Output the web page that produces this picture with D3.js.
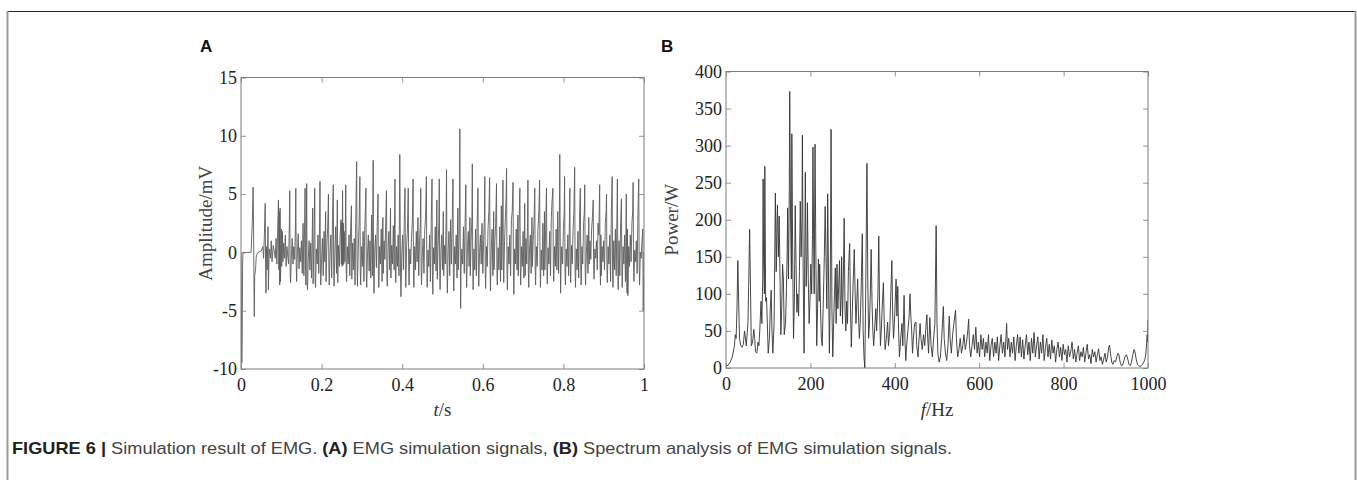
<!DOCTYPE html>
<html><head><meta charset="utf-8">
<script src="https://cdn.jsdelivr.net/npm/d3@7/dist/d3.min.js"></script>
<style>
html,body{margin:0;padding:0;background:#fff;}
svg{display:block;}
</style></head>
<body>
<svg id="chart" width="1357" height="480"></svg>
<script>
// ---------- DATA ----------
const ampTicks = [-10, -5, 0, 5, 10, 15];
const timeTicks = [0, 0.2, 0.4, 0.6, 0.8, 1];
const timeTickLabels = ["0", "0.2", "0.4", "0.6", "0.8", "1"];
const powerTicks = [0, 50, 100, 150, 200, 250, 300, 350, 400];
const freqTicks = [0, 200, 400, 600, 800, 1000];

// EMG simulation signal: [time (s), amplitude (mV)]
const emgSignal = [
[0,0],[0.001,-4],[0.002,-9.5],[0.003,-7],[0.004,-1],[0.005,0],[0.025,0],[0.028,2.5],[0.030,5.6],[0.031,3],[0.032,-2],[0.033,-5.5],[0.034,-2],[0.036,-1.5],[0.038,-0.3],[0.042,0],[0.050,0.1],
[0.054,0.5],[0.056,-0.5],[0.058,1.5],[0.060,4.2],[0.061,-1],[0.062,-3.5],[0.063,0.5],[0.065,-1.5],[0.067,2.2],[0.068,-3.2],[0.070,0.3],[0.073,-0.5],[0.075,1],[0.077,-0.8],[0.080,0.6],[0.082,0.2],[0.085,-0.5],[0.087,1.2],[0.089,-1],[0.091,2],[0.093,4.5],[0.094,-1.5],[0.095,3.5],[0.096,-2.8],[0.097,3.8],[0.098,-2.5],[0.100,2],[0.101,-1.2],[0.103,1.8],[0.104,-0.8],[0.106,0.8],[0.108,-0.5],[0.110,1.5],[0.112,-1.2],[0.114,0.5],[0.116,-0.3],[0.118,-1],[0.120,2.5],[0.121,5.3],[0.122,-1.8],[0.123,-2.6],[0.125,-0.4],[0.127,1.2],[0.129,-1],[0.131,0.5],[0.133,-0.6],[0.135,2],[0.136,5.5],[0.137,-1],[0.138,-2.5],[0.140,0],[0.142,1.6],[0.144,-1.4],[0.146,0.4],[0.148,-0.8],[0.150,1],[0.152,-1.8],[0.154,2.5],[0.156,-2],[0.158,3],[0.159,5.5],[0.160,-1],[0.161,-2.8],[0.162,1.5],[0.163,5.9],[0.164,-2.5],[0.165,-3.2],[0.167,-0.5],[0.169,1],[0.171,-1.5],[0.173,0.8],[0.175,-2.2],[0.177,2],[0.178,3.8],[0.179,-2.7],[0.181,1],[0.183,5.5],[0.184,-2.5],[0.185,-3],[0.187,0.3],[0.189,-1],[0.191,1.5],[0.193,-1.8],[0.195,2.5],[0.196,6.1],[0.197,-1],[0.198,-2.8],[0.200,-0.5],[0.202,1.2],[0.204,-2],[0.206,1.8],[0.208,-0.8],[0.210,3.5],[0.211,-2.5],[0.213,0.5],[0.215,2],[0.217,5.0],[0.218,-1.5],[0.219,-2.8],[0.221,0],[0.223,1.5],[0.225,-2.2],[0.227,3],[0.229,5.8],[0.230,-1.5],[0.231,-2.9],[0.233,0.2],[0.235,2.2],[0.237,-1.8],[0.239,4.5],[0.240,-2.6],[0.242,0.6],[0.244,-1.2],[0.246,1.5],[0.248,2.8],[0.249,-1],[0.250,2.6],[0.251,-1.2],[0.252,5.3],[0.253,-1.1],[0.254,2.5],[0.255,-1],[0.256,1.8],[0.258,-0.8],[0.260,5.8],[0.261,-1.5],[0.262,-2.5],[0.264,0.5],[0.266,-1],[0.268,1.5],[0.270,-2],[0.272,2],[0.274,4.0],[0.275,-2.3],[0.277,0.8],[0.279,-1.5],[0.281,1.2],[0.283,-2.8],[0.285,3.5],[0.287,7.8],[0.288,-1],[0.289,-2.9],[0.291,0.3],[0.293,2.5],[0.295,6.5],[0.296,-1.5],[0.297,-2.8],[0.299,0.5],[0.301,-1.2],[0.303,1.8],[0.305,-2.5],[0.307,2],[0.309,4],[0.310,5.5],[0.311,-2],[0.312,-3],[0.314,0],[0.316,1.5],[0.318,-1.6],[0.320,1],[0.322,-2.2],[0.324,3.2],[0.326,-2],[0.327,3],[0.328,7.9],[0.329,-1.5],[0.330,-3.5],[0.332,0.2],[0.334,1.5],[0.336,-1.3],[0.338,2.2],[0.340,5.0],[0.341,-2],[0.342,-3],[0.344,0.5],[0.346,-1],[0.348,2],[0.350,-2.5],[0.352,3],[0.353,-1.8],[0.355,1],[0.357,-0.6],[0.359,2.5],[0.361,5.3],[0.362,-2],[0.363,-2.9],[0.365,0.4],[0.367,1.8],[0.369,-1.5],[0.371,3.8],[0.372,-2.2],[0.374,0.6],[0.376,-1],[0.378,2.3],[0.380,-1.5],[0.382,6.3],[0.383,-1.5],[0.384,-2.6],[0.386,0.5],[0.388,-1.2],[0.390,1.5],[0.392,-2],[0.394,8.4],[0.395,3],[0.396,-2.5],[0.397,-3.8],[0.399,0],[0.401,1.5],[0.403,-1.5],[0.405,2.5],[0.407,5.5],[0.408,-1.5],[0.409,-3],[0.411,0.6],[0.413,2],[0.415,5.5],[0.416,-1.2],[0.417,-2.8],[0.419,0.3],[0.421,-1],[0.423,1.2],[0.425,2.5],[0.427,6.3],[0.428,-1.8],[0.429,-3],[0.431,0.5],[0.433,-1.5],[0.435,1.8],[0.437,-0.8],[0.439,3],[0.441,-2],[0.443,1],[0.445,2.5],[0.446,5.5],[0.447,-1.5],[0.448,-2.8],[0.450,0],[0.452,1.2],[0.454,-1.8],[0.456,2],[0.458,3],[0.460,6.5],[0.461,-1],[0.462,-3],[0.464,0.2],[0.466,-1.2],[0.468,1.5],[0.470,-2.5],[0.472,2.5],[0.474,6.3],[0.475,-2],[0.476,-3.6],[0.478,0.4],[0.480,-1],[0.482,2.2],[0.484,-1.6],[0.486,4.5],[0.487,-2.3],[0.489,0.5],[0.491,2.5],[0.492,6.3],[0.493,-1.5],[0.494,-3.2],[0.496,0],[0.498,1.5],[0.500,-1.5],[0.502,3.5],[0.503,-2],[0.505,0.6],[0.507,-1],[0.509,3],[0.510,7.1],[0.511,-1],[0.512,-3.5],[0.514,0.2],[0.516,1.8],[0.518,-2],[0.520,2.8],[0.522,-1],[0.524,2.5],[0.526,6.3],[0.527,-1.8],[0.528,-3.3],[0.530,0.5],[0.532,-1],[0.534,1.5],[0.536,-2.2],[0.538,3.8],[0.539,-1.5],[0.541,1],[0.542,4],[0.543,10.6],[0.544,1],[0.545,-4.8],[0.546,-1.5],[0.548,0.3],[0.550,-1],[0.552,2.2],[0.554,-1.8],[0.556,2.5],[0.558,5.8],[0.559,-1.5],[0.560,-3],[0.562,0.5],[0.564,1.8],[0.566,-1.2],[0.568,3],[0.569,-2],[0.571,1],[0.573,3],[0.574,7.6],[0.575,-1],[0.576,-3.2],[0.578,0.3],[0.580,-1.5],[0.582,2],[0.584,-2],[0.586,2.5],[0.588,5.5],[0.589,-1.2],[0.590,-2.9],[0.592,0],[0.594,1.5],[0.596,-1],[0.598,2.5],[0.600,-1.8],[0.602,1],[0.604,3],[0.605,6.5],[0.606,-1.5],[0.607,-3.1],[0.609,0.5],[0.611,-1.2],[0.613,2],[0.615,3.5],[0.617,6.4],[0.618,-1],[0.619,-3.3],[0.621,0.2],[0.623,2],[0.625,-2],[0.627,3.5],[0.628,-1.5],[0.630,1],[0.632,2.5],[0.634,5.9],[0.635,-1.5],[0.636,-2.8],[0.638,0.4],[0.640,-1.5],[0.642,2.2],[0.644,-2.5],[0.646,4],[0.647,-1.5],[0.649,2.5],[0.650,6.2],[0.651,-1],[0.652,-2.6],[0.654,1],[0.656,3],[0.658,5],[0.659,7.2],[0.660,-1.5],[0.661,-3.2],[0.663,0.5],[0.665,-1],[0.667,1.5],[0.669,-2],[0.671,2.8],[0.673,3.5],[0.675,6.0],[0.676,-1.5],[0.677,-3.6],[0.679,0.3],[0.681,-1],[0.683,2],[0.685,-1.5],[0.687,3.2],[0.688,-2],[0.690,2.5],[0.692,5.5],[0.693,-1],[0.694,-2.8],[0.696,0.5],[0.698,-1.2],[0.700,1.8],[0.702,-2.2],[0.704,4.2],[0.705,-2],[0.707,1.2],[0.709,-1],[0.711,2.5],[0.712,6.2],[0.713,-1.5],[0.714,-3],[0.716,0.3],[0.718,1.5],[0.720,-1.8],[0.722,3],[0.723,-1.2],[0.725,1],[0.727,2.5],[0.729,5.5],[0.730,-1.5],[0.731,-2.8],[0.733,0.5],[0.735,-1.2],[0.737,2],[0.739,3.5],[0.741,6.2],[0.742,-1],[0.743,-3],[0.745,0.2],[0.747,-1.5],[0.749,2.5],[0.751,-2],[0.753,3.5],[0.754,-1.5],[0.756,2],[0.758,5.5],[0.759,-1.2],[0.760,-2.7],[0.762,0.4],[0.764,-1],[0.766,1.8],[0.768,-2],[0.770,3],[0.772,4.5],[0.774,5.5],[0.775,-1],[0.776,-2.5],[0.778,0.5],[0.780,-1.2],[0.782,2],[0.784,-1.5],[0.786,3.5],[0.788,-1.8],[0.790,3],[0.791,8.4],[0.792,2],[0.793,-3.5],[0.794,-1.5],[0.796,0.5],[0.798,-1],[0.800,2],[0.802,3.5],[0.803,6.5],[0.804,-1.5],[0.805,-2.8],[0.807,0.3],[0.809,-1.2],[0.811,1.5],[0.813,-2],[0.815,3],[0.816,5.5],[0.817,-1],[0.818,-2.6],[0.820,0.6],[0.822,-1],[0.824,2],[0.826,3.5],[0.828,7.3],[0.829,-1.5],[0.830,-3],[0.832,0.3],[0.834,-1.5],[0.836,1.8],[0.838,-2.2],[0.840,3],[0.842,5.5],[0.843,-1],[0.844,-2.8],[0.846,0.5],[0.848,-1],[0.850,2.5],[0.852,3.5],[0.853,5.8],[0.854,-1.5],[0.855,-2.8],[0.857,0],[0.859,1.5],[0.861,-1.8],[0.863,3],[0.864,-1],[0.866,1],[0.868,-0.6],[0.870,2],[0.872,3],[0.874,4.5],[0.875,-1],[0.876,-2.3],[0.878,0.3],[0.880,-0.5],[0.882,1],[0.884,-1.5],[0.886,2.5],[0.888,1.5],[0.890,5.8],[0.891,-1],[0.892,-2.8],[0.893,1.5],[0.894,-2],[0.896,0.5],[0.898,-0.8],[0.900,1],[0.902,-1.5],[0.904,2.5],[0.906,3.5],[0.907,5],[0.908,-1.5],[0.909,-2.6],[0.911,0.5],[0.913,-1],[0.915,1.5],[0.917,-2.5],[0.919,3.5],[0.920,5],[0.921,6.5],[0.922,-1.5],[0.923,-3],[0.925,1],[0.927,-1.5],[0.929,2],[0.931,-2],[0.933,3.5],[0.934,6.3],[0.935,-1],[0.936,-3.2],[0.938,1],[0.940,-2],[0.942,2.5],[0.944,4.6],[0.945,-1.5],[0.946,-3],[0.948,0.5],[0.950,-1],[0.952,1.5],[0.954,-2.5],[0.956,5.0],[0.957,-1.5],[0.958,-3.5],[0.959,2],[0.960,-3.7],[0.962,0.5],[0.964,-1.2],[0.966,1.5],[0.968,-0.8],[0.970,2.5],[0.972,3.5],[0.973,6.0],[0.974,-1],[0.975,-2.5],[0.977,0.2],[0.979,-0.8],[0.981,1],[0.983,-1.8],[0.985,3.5],[0.987,6.3],[0.988,-1],[0.989,-2.8],[0.991,0],[0.993,-0.5],[0.995,1],[0.997,2],[0.998,-5],[0.999,-3],[1.0,0]
];

// Power spectrum: [frequency (Hz), power (W)]
const spectrum = [
[0,2],[5,4],[10,8],[15,15],[20,30],[22,45],[24,40],[26,80],[28,145],[30,90],[32,40],[35,30],[38,28],[41,32],[44,50],[48,30],[52,60],[54,120],[56,187],[58,110],[60,30],[63,35],[66,52],[68,40],[70,22],[73,20],[76,35],[78,30],[80,50],[83,90],[85,60],[87,120],[88,255],[89,150],[91,100],[92,272],[94,90],[96,95],[98,60],[100,20],[103,40],[105,80],[107,105],[109,50],[111,20],[114,60],[116,180],[117,236],[119,130],[121,200],[122,220],[124,150],[126,205],[128,120],[130,45],[132,80],[134,140],[136,120],[138,45],[141,60],[143,100],[145,160],[146,216],[148,120],[150,240],[151,373],[153,200],[155,120],[156,316],[158,150],[160,40],[162,90],[164,219],[166,140],[168,75],[170,100],[172,70],[174,130],[176,225],[178,150],[180,200],[181,314],[183,120],[185,20],[186,100],[188,264],[190,110],[192,150],[193,223],[195,120],[197,60],[199,90],[201,140],[203,100],[205,180],[206,298],[208,150],[209,100],[211,302],[213,150],[215,30],[217,80],[219,147],[221,90],[222,140],[224,80],[226,40],[228,30],[231,100],[233,150],[235,218],[237,150],[239,80],[241,235],[243,120],[245,20],[247,100],[249,322],[251,80],[253,15],[255,60],[257,100],[259,135],[261,60],[263,140],[265,80],[267,110],[269,145],[271,70],[273,100],[274,150],[276,60],[278,120],[280,202],[282,80],[284,50],[286,90],[288,60],[290,130],[293,168],[295,80],[297,28],[299,70],[301,110],[304,160],[306,100],[308,60],[310,90],[312,120],[314,70],[316,40],[318,60],[320,100],[323,181],[325,50],[327,15],[329,0],[331,100],[334,276],[336,120],[338,40],[340,60],[342,100],[344,160],[346,90],[348,50],[350,30],[353,60],[355,80],[357,50],[360,100],[362,178],[364,80],[366,30],[368,50],[370,80],[373,115],[375,60],[377,25],[380,40],[383,62],[385,30],[388,50],[390,90],[393,145],[395,70],[397,40],[399,60],[401,90],[403,120],[405,70],[407,110],[409,50],[411,15],[414,40],[417,60],[419,30],[422,98],[424,40],[426,10],[428,30],[431,50],[434,70],[436,100],[438,70],[440,50],[442,20],[444,40],[447,60],[450,62],[452,30],[455,15],[457,35],[460,60],[462,40],[465,25],[468,45],[471,30],[473,50],[476,72],[478,40],[480,20],[483,68],[486,30],[489,15],[492,40],[495,60],[498,192],[500,60],[502,20],[505,8],[508,15],[511,40],[513,60],[515,83],[517,40],[520,20],[523,10],[526,30],[529,70],[531,40],[534,20],[537,45],[540,60],[544,78],[546,40],[549,15],[552,25],[555,40],[558,20],[561,30],[564,45],[567,25],[570,35],[573,50],[575,66],[577,30],[580,15],[583,30],[586,45],[589,25],[592,55],[595,20],[598,35],[601,15],[604,45],[607,25],[610,40],[613,15],[616,35],[619,20],[622,45],[625,10],[628,30],[631,40],[634,15],[637,35],[640,20],[643,42],[646,10],[649,30],[652,45],[655,20],[658,35],[661,15],[665,60],[667,25],[670,40],[673,15],[676,35],[679,20],[682,42],[685,10],[688,30],[691,45],[694,20],[697,42],[700,15],[703,38],[706,12],[709,30],[712,45],[715,18],[718,35],[721,10],[724,40],[727,20],[730,48],[733,15],[736,30],[739,42],[742,12],[745,35],[748,20],[751,45],[754,10],[757,28],[760,40],[763,15],[766,32],[769,12],[772,38],[775,20],[778,30],[781,8],[784,25],[787,35],[790,15],[793,28],[796,10],[799,32],[802,18],[805,25],[808,8],[811,30],[814,15],[817,22],[820,35],[823,12],[826,25],[829,8],[832,20],[835,30],[838,10],[841,22],[844,15],[847,28],[850,8],[853,20],[856,32],[859,12],[862,18],[865,6],[868,25],[871,15],[874,22],[877,8],[880,18],[883,26],[886,10],[889,15],[892,5],[895,12],[898,20],[901,8],[904,15],[907,28],[909,31],[911,20],[914,8],[917,5],[920,10],[923,8],[926,15],[929,20],[931,18],[934,8],[937,3],[940,4],[943,10],[946,16],[949,18],[952,12],[955,5],[958,3],[961,8],[964,18],[967,25],[969,22],[972,12],[975,5],[978,3],[981,2],[984,3],[987,5],[990,8],[993,12],[995,20],[997,35],[998,45],[999,35],[1000,65]
];

const captionBold = "FIGURE 6 |";
const captionText = " Simulation result of EMG. ";
const captionA = "(A)";
const captionMid = " EMG simulation signals, ";
const captionB = "(B)";
const captionEnd = " Spectrum analysis of EMG simulation signals.";

// ---------- DRAW ----------
const svg = d3.select("#chart");
const serif = "'Liberation Serif','Times New Roman',serif";
const sans = "'Liberation Sans',Arial,Helvetica,sans-serif";

// outer frame
svg.append("line").attr("x1",7).attr("x2",1356).attr("y1",11.5).attr("y2",11.5).attr("stroke","#222").attr("stroke-width",1.2);
svg.append("line").attr("x1",7.5).attr("x2",7.5).attr("y1",11).attr("y2",480).attr("stroke","#999").attr("stroke-width",2);
svg.append("line").attr("x1",1355.5).attr("x2",1355.5).attr("y1",11).attr("y2",480).attr("stroke","#999").attr("stroke-width",2);

function panel(cfg) {
  const g = svg.append("g");
  const x = cfg.x, y = cfg.y;
  const [x0, x1] = x.range();
  const [y0, y1] = y.range();
  const boxColor = "#7a7a7a";
  const clipId = cfg.id + "clip";
  svg.append("clipPath").attr("id", clipId).append("rect")
    .attr("x", x0).attr("y", y1).attr("width", x1 - x0).attr("height", y0 - y1);
  g.append("path").datum(cfg.data)
    .attr("clip-path", `url(#${clipId})`)
    .attr("fill","none").attr("stroke",cfg.color).attr("stroke-width",cfg.width)
    .attr("stroke-linejoin","round")
    .attr("d", d3.line().x(d => x(d[0])).y(d => y(d[1])));

  const styleAxis = (sel, labels) => {
    sel.select(".domain").remove();
    sel.selectAll(".tick line").attr("stroke", boxColor).attr("stroke-width", 0.8);
    sel.selectAll("text").attr("font-family", serif).attr("font-size", 18).attr("fill", "#222");
    if (!labels) sel.selectAll("text").remove();
  };
  g.append("g").attr("transform", `translate(0,${y0})`)
    .call(d3.axisBottom(x).tickValues(cfg.xTicks).tickSize(-5).tickPadding(9).tickFormat((d,i)=>cfg.xLabels[i]))
    .call(s => styleAxis(s, true));
  g.append("g").attr("transform", `translate(0,${y1})`)
    .call(d3.axisTop(x).tickValues(cfg.xTicks).tickSize(-5))
    .call(s => styleAxis(s, false));
  g.append("g").attr("transform", `translate(${x0},0)`)
    .call(d3.axisLeft(y).tickValues(cfg.yTicks).tickSize(-5).tickPadding(4).tickFormat(d => String(d)))
    .call(s => styleAxis(s, true));
  g.append("g").attr("transform", `translate(${x1},0)`)
    .call(d3.axisRight(y).tickValues(cfg.yTicks).tickSize(-5))
    .call(s => styleAxis(s, false));
  g.append("rect").attr("x", x0).attr("y", y1).attr("width", x1 - x0).attr("height", y0 - y1)
    .attr("fill","none").attr("stroke", boxColor).attr("stroke-width", 1);

  g.append("text").attr("transform", `translate(${cfg.yTitleX},${(y0+y1)/2}) rotate(-90)`)
    .attr("text-anchor","middle").attr("font-family", serif).attr("font-size", 19).attr("fill","#444")
    .text(cfg.yTitle);
  const xt = g.append("text").attr("x", (x0+x1)/2).attr("y", cfg.xTitleY)
    .attr("text-anchor","middle").attr("font-family", serif).attr("font-size", 19).attr("fill","#333");
  xt.append("tspan").attr("font-style","italic").text(cfg.xTitleItalic);
  xt.append("tspan").text(cfg.xTitleRest);
  svg.append("text").attr("x", cfg.letterX).attr("y", 52).attr("font-family", sans)
    .attr("font-weight","bold").attr("font-size", 17).attr("fill","#111").text(cfg.letter);
}

panel({
  id: "a",
  x: d3.scaleLinear().domain([0,1]).range([241,644]),
  y: d3.scaleLinear().domain([-10,15]).range([369,77.5]),
  data: emgSignal, color: "#5c5c5c", width: 0.9,
  xTicks: timeTicks, xLabels: timeTickLabels, yTicks: ampTicks,
  yTitle: "Amplitude/mV", yTitleX: 212, xTitleY: 416, xTitleItalic: "t", xTitleRest: "/s",
  letter: "A", letterX: 200
});
panel({
  id: "b",
  x: d3.scaleLinear().domain([0,1000]).range([726,1148]),
  y: d3.scaleLinear().domain([0,400]).range([368,71.5]),
  data: spectrum, color: "#333", width: 0.9,
  xTicks: freqTicks, xLabels: freqTicks.map(String), yTicks: powerTicks,
  yTitle: "Power/W", yTitleX: 678, xTitleY: 416, xTitleItalic: "f", xTitleRest: "/Hz",
  letter: "B", letterX: 661
});

// caption
const cap = svg.append("text").attr("x", 12).attr("y", 454).attr("font-family", sans)
  .attr("font-size", 17).attr("fill", "#444")
  .attr("textLength", 940).attr("lengthAdjust", "spacingAndGlyphs");
cap.append("tspan").attr("font-weight","bold").attr("fill","#222").text(captionBold);
cap.append("tspan").text(captionText);
cap.append("tspan").attr("font-weight","bold").attr("fill","#222").text(captionA);
cap.append("tspan").text(captionMid);
cap.append("tspan").attr("font-weight","bold").attr("fill","#222").text(captionB);
cap.append("tspan").text(captionEnd);
</script>
</body></html>
